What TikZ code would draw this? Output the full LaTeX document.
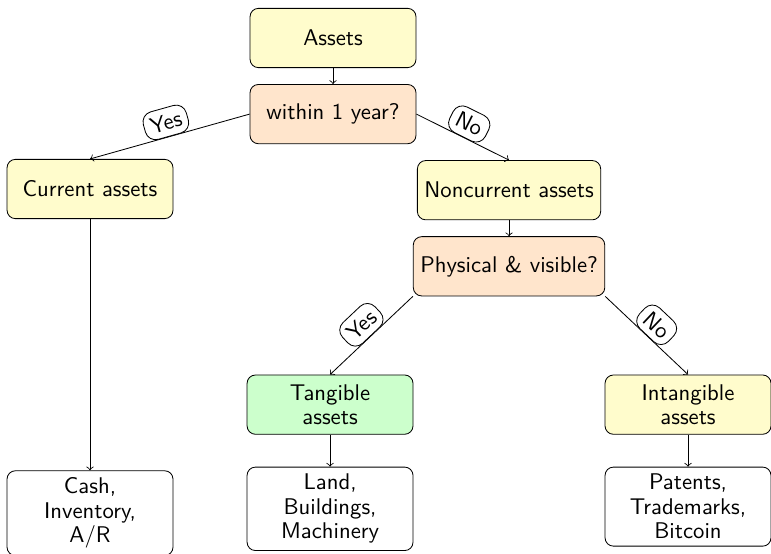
\documentclass[tikz,border=0pt]{standalone}
\usepackage{tikz}
\usetikzlibrary{positioning}

\begin{document}
\begin{tikzpicture}[
      font=\sffamily\fontsize{10.9}{11.8}\selectfont,
      box/.style={
        rectangle, draw, rounded corners, align=center,
        minimum width=2.8cm, minimum height=1cm
      },
      assetbox/.style={box, fill=yellow!20},
      question/.style={box, fill=orange!20},
      tangbox/.style={box, fill=green!20},
      example/.style={box, fill=white},
      answer/.style={
        draw, rounded corners=5pt, fill=white, inner sep=3pt,
        midway, above, sloped
      }
    ]
    \useasboundingbox (-5.619,0.641) rectangle (7.390,-8.690);

    \node[assetbox] (assets) at (0,0) {Assets};
    \node[question, below=0.27cm of assets] (year) {within 1 year?};
    \node[assetbox, below=0.25cm of year, xshift=-4.1cm] (cur) {Current assets};
    \node[assetbox, below=0.27cm of year, xshift=2.97cm] (noncur) {Noncurrent assets};
    \node[question, below=0.27cm of noncur] (phys) {Physical \& visible?};
    \node[tangbox, below=1.32cm of phys, xshift=-3.02cm] (tang) {Tangible\\assets};
    \node[assetbox, below=1.32cm of phys, xshift=3.02cm] (intang) {Intangible\\assets};
    \node[example, below=4.24cm of cur] (cash) {Cash,\\Inventory,\\A/R};
    \node[example, below=0.54cm of tang] (land) {Land,\\Buildings,\\Machinery};
    \node[example, below=0.54cm of intang] (pat) {Patents,\\Trademarks,\\Bitcoin};

    \draw[->] (year.west) -- node[answer] {Yes} (cur.north);
    \draw[->] (year.east) -- node[answer] {No} (noncur.north);
    \draw[->] (phys.south west) -- node[answer] {Yes} (tang.north);
    \draw[->] (phys.south east) -- node[answer] {No} (intang.north);

    \foreach \a/\b in {assets/year, noncur/phys, cur/cash, tang/land, intang/pat}
      \draw[->] (\a) -- (\b);
  \end{tikzpicture}
\end{document}
